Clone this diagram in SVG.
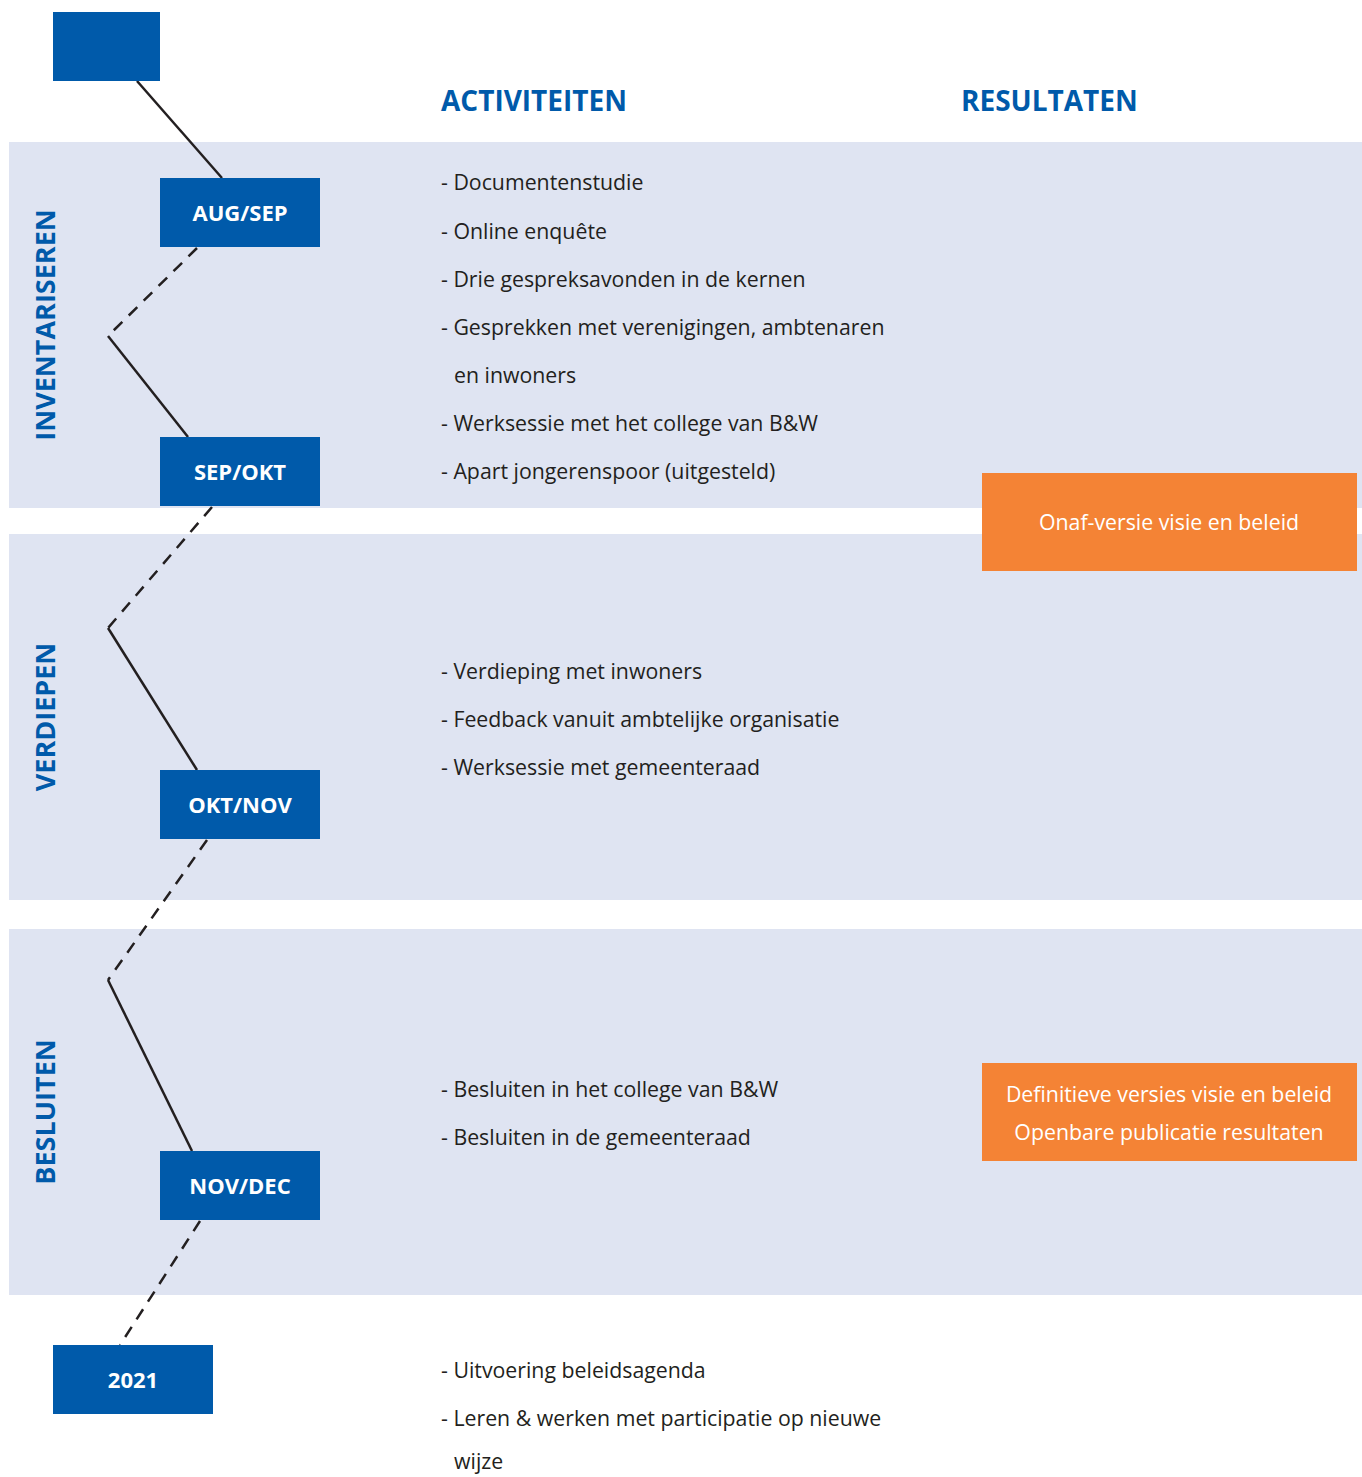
<svg xmlns="http://www.w3.org/2000/svg" width="1362" height="1477" viewBox="0 0 1362 1477">
<style>
.band{fill:#DFE4F2}
.blue{fill:#005AAA}
.orange{fill:#F48335}
.lbl{font-family:"Open Sans","Liberation Sans",sans-serif;font-weight:bold;font-size:22px;fill:#fff;text-anchor:middle}
.phase{font-family:"Open Sans","Liberation Sans",sans-serif;font-weight:bold;font-size:27px;fill:#005AAA;text-anchor:middle}
.head{font-family:"Open Sans","Liberation Sans",sans-serif;font-weight:bold;font-size:28px;fill:#005AAA}
.act{font-family:"Open Sans","Liberation Sans",sans-serif;font-size:21.3px;fill:#231F20}
.res{font-family:"Open Sans","Liberation Sans",sans-serif;font-size:21.3px;fill:#fff;text-anchor:middle}
.solid{stroke:#231F20;stroke-width:2.5;fill:none}
.dash{stroke:#231F20;stroke-width:2.5;fill:none;stroke-dasharray:12 9}
</style>
<rect width="1362" height="1477" fill="#fff"/>
<g id="bands">
<rect class="band" x="9" y="142" width="1353" height="366"/>
<rect class="band" x="9" y="534" width="1353" height="366"/>
<rect class="band" x="9" y="929" width="1353" height="366"/>
</g>
<g id="phase-labels">
<text class="phase" transform="translate(55,325) rotate(-90)">INVENTARISEREN</text>
<text class="phase" transform="translate(55,717) rotate(-90)">VERDIEPEN</text>
<text class="phase" transform="translate(55,1112) rotate(-90)">BESLUITEN</text>
</g>
<g id="headings">
<text class="head" x="441" y="111">ACTIVITEITEN</text>
<text class="head" x="961" y="111">RESULTATEN</text>
</g>
<g id="connectors">
<line class="solid" x1="137" y1="81" x2="222" y2="178"/>
<polyline class="dash" points="197,248 108,336"/>
<line class="solid" x1="108" y1="336" x2="188" y2="437"/>
<polyline class="dash" points="212,507 108,628"/>
<line class="solid" x1="108" y1="628" x2="197" y2="770"/>
<polyline class="dash" points="207,840 108,980"/>
<line class="solid" x1="108" y1="980" x2="192" y2="1151"/>
<polyline class="dash" points="200,1221 120,1345"/>
</g>
<g id="node-top"><rect class="blue" x="53" y="12" width="107" height="69"/></g>
<g id="node-augsep"><rect class="blue" x="160" y="178" width="160" height="69"/><text class="lbl" x="240" y="221">AUG/SEP</text></g>
<g id="node-sepokt"><rect class="blue" x="160" y="437" width="160" height="69"/><text class="lbl" x="240" y="480">SEP/OKT</text></g>
<g id="node-oktnov"><rect class="blue" x="160" y="770" width="160" height="69"/><text class="lbl" x="240" y="813">OKT/NOV</text></g>
<g id="node-novdec"><rect class="blue" x="160" y="1151" width="160" height="69"/><text class="lbl" x="240" y="1194">NOV/DEC</text></g>
<g id="node-2021"><rect class="blue" x="53" y="1345" width="160" height="69"/><text class="lbl" x="133" y="1388">2021</text></g>
<g id="activities-1">
<text class="act" x="441" y="190">- Documentenstudie</text>
<text class="act" x="441" y="239">- Online enquête</text>
<text class="act" x="441" y="287">- Drie gespreksavonden in de kernen</text>
<text class="act" x="441" y="335">- Gesprekken met verenigingen, ambtenaren</text>
<text class="act" x="454" y="383">en inwoners</text>
<text class="act" x="441" y="431">- Werksessie met het college van B&amp;W</text>
<text class="act" x="441" y="479">- Apart jongerenspoor (uitgesteld)</text>
</g>
<g id="activities-2">
<text class="act" x="441" y="679">- Verdieping met inwoners</text>
<text class="act" x="441" y="727">- Feedback vanuit ambtelijke organisatie</text>
<text class="act" x="441" y="775">- Werksessie met gemeenteraad</text>
</g>
<g id="activities-3">
<text class="act" x="441" y="1097">- Besluiten in het college van B&amp;W</text>
<text class="act" x="441" y="1145">- Besluiten in de gemeenteraad</text>
</g>
<g id="activities-4">
<text class="act" x="441" y="1378">- Uitvoering beleidsagenda</text>
<text class="act" x="441" y="1426">- Leren &amp; werken met participatie op nieuwe</text>
<text class="act" x="454" y="1469">wijze</text>
</g>
<g id="result-1"><rect class="orange" x="982" y="473" width="375" height="98"/><text class="res" x="1169" y="530">Onaf-versie visie en beleid</text></g>
<g id="result-2"><rect class="orange" x="982" y="1063" width="375" height="98"/><text class="res" x="1169" y="1102">Definitieve versies visie en beleid</text><text class="res" x="1169" y="1140">Openbare publicatie resultaten</text></g>
</svg>
